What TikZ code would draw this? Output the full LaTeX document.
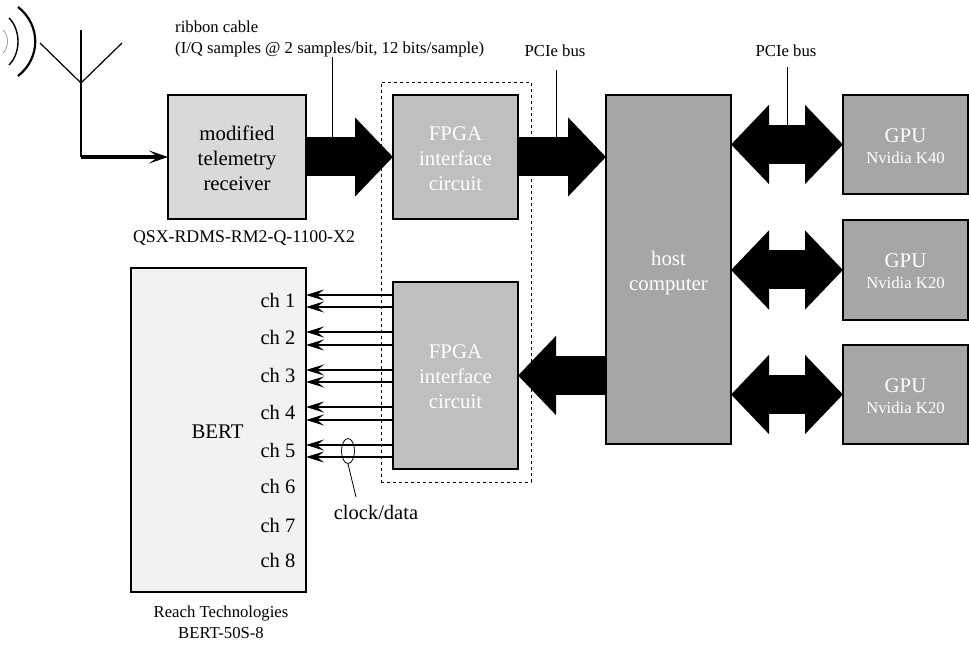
\documentclass[tikz,border=0pt]{standalone}
\usepackage{fontspec}
\setmainfont{Liberation Serif}
\usepackage{xcolor}
\usetikzlibrary{arrows.meta,positioning,shapes.geometric}
\definecolor{rxgray}{HTML}{D9D9D9}
\definecolor{fpgagray}{HTML}{BFBFBF}
\definecolor{hostgray}{HTML}{A6A6A6}
\definecolor{bertgray}{HTML}{F2F2F2}
\newcommand{\smalltxt}{\fontsize{16.7}{21}\selectfont}
\newcommand{\lift}[1]{\rule{0pt}{#1}}

\begin{document}
\begin{tikzpicture}[
   x=1pt, y=-1pt, font=\fontsize{20.5}{25}\selectfont,
   box/.style={draw, line width=2pt, align=center, inner sep=0pt, outer sep=0pt,
               font=\fontsize{20.8}{25}\selectfont},
   rxbox/.style={box, fill=rxgray, minimum width=138pt, minimum height=124pt},
   fpga/.style={box, fill=fpgagray, text=white, minimum width=125pt},
   hostbox/.style={box, fill=hostgray, text=white, minimum width=125pt, minimum height=349pt},
   gpu/.style={box, fill=hostgray, text=white, minimum width=125pt, minimum height=99pt},
   label/.style={inner sep=0pt, align=center},
   small/.style={label, font=\smalltxt},
   leader/.style={line width=0.8pt},
   fat/.style={line width=39pt, -{Triangle[length=38pt,width=77pt]}},
   fatboth/.style={line width=39pt, {Triangle[length=38pt,width=77pt]}-{Triangle[length=38pt,width=77pt]}},
   sig/.style={line width=1.3pt, -{Stealth[length=18pt,width=11pt,inset=7pt]}}]
  \useasboundingbox (0,0) rectangle (969,652);
  % dashed group round the two FPGA boards
  \node[draw, dashed, line width=0.8pt, minimum width=150pt, minimum height=400pt] (group) at (456,282) {};
  \node[rxbox] (rx) at (237,157) {\lift{18pt}modified\\telemetry\\receiver};
  \node[fpga, minimum height=124pt] (fpgaone) at (455.5,157) {\lift{18pt}FPGA\\interface\\circuit};
  \node[fpga, minimum height=187pt] (fpgatwo) at (455.5,375.5) {\lift{16.5pt}FPGA\\interface\\circuit};
  \node[hostbox] (host) at (668.5,269.5) {\lift{22pt}host\\computer};
  \node[gpu] (gpuone)   at (905.5,144.5) {\lift{18pt}GPU\\[-4pt]{\smalltxt Nvidia K40}};
  \node[gpu] (gputwo)   at (905.5,270)   {\lift{16.5pt}GPU\\[-4pt]{\smalltxt Nvidia K20}};
  \node[gpu] (gputhree) at (905.5,394.5) {\lift{18pt}GPU\\[-4pt]{\smalltxt Nvidia K20}};
  \node[box, fill=bertgray, minimum width=175pt, minimum height=324pt] (bert) at (218.5,430) {\lift{18pt}\hspace{-2pt}BERT};
  % channel names
  \foreach \n/\y in {1/300.7,2/337.7,3/375.7,4/412.7,5/450.7,6/486.7,7/525.7,8/560.7}
    \node[label] (ch\n) at (278,\y) {ch \n};
  % antenna
  \coordinate (top) at (81,30);
  \coordinate (fork) at (81,83);
  \coordinate (armleft) at (40,43);
  \coordinate (armright) at (122,43);
  \coordinate (foot) at (81,157);
  \draw[line width=1.2pt] (top) -- (foot);
  \draw[line width=1.2pt] (armleft) -- (fork) -- (armright);
  \draw[line width=3.2pt, -{Stealth[length=19pt,width=13pt,inset=9pt]}] (foot) -- (rx.west |- foot);
  % radio waves
  \draw[line width=2.2pt] (18,7) .. controls (41,25) and (41,58) .. (18,76);
  \draw[line width=1.4pt] (9,18) .. controls (21,30) and (21,53) .. (9,65);
  \draw[line width=0.6pt, gray] (3,30) .. controls (9,36) and (9,47) .. (3,53);
  % buses
  \draw[fat] (rx.east) -- (fpgaone.west);
  \draw[fat] (fpgaone.east) -- (fpgaone -| host.west);
  \draw[fat] (fpgatwo -| host.west) -- (fpgatwo.east);
  \draw[fatboth] (gpuone -| host.east) -- (gpuone.west);
  \draw[fatboth] (gputwo -| host.east) -- (gputwo.west);
  \draw[fatboth] (gputhree -| host.east) -- (gputhree.west);
  % clock and data lines
  \foreach \y in {295,307,332,345,370,382,407,420,445,457}
    \draw[sig] (fpgatwo.west |- 0,\y) -- (bert.east |- 0,\y);
  % labels
  \node[small, align=left, anchor=north west] (ribbon) at (175,20.5) {ribbon cable\\(I/Q samples @ 2 samples/bit, 12 bits/sample)};
  \node[small, font=\fontsize{17.8}{21}\selectfont] (qsx) at (244,238) {QSX-RDMS-RM2-Q-1100-X2};
  \node[small] (pcieone) at (555,51) {PCIe bus};
  \node[small] (pcietwo) at (786,51) {PCIe bus};
  \node[small] (reach) at (221,622) {Reach Technologies\\BERT-50S-8};
  \node[label] (clock) at (376,512) {clock/data};
  \node[draw, ellipse, leader, minimum width=13pt, minimum height=25pt, inner sep=0pt] (pair) at (348,451) {};
  % leaders
  \coordinate (ribbonend) at (332,57);
  \coordinate (ribbonbus) at (332,138);
  \coordinate (pcieoneend) at (556,70);
  \coordinate (pcieonebus) at (556,138);
  \coordinate (pcietwoend) at (787,67);
  \coordinate (pcietwobus) at (787,126);
  \coordinate (clockend) at (356,497);
  \draw[leader] (ribbonend) -- (ribbonbus);
  \draw[leader] (pcieoneend) -- (pcieonebus);
  \draw[leader] (pcietwoend) -- (pcietwobus);
  \draw[leader] (pair.south) -- (clockend);
\end{tikzpicture}
\end{document}
